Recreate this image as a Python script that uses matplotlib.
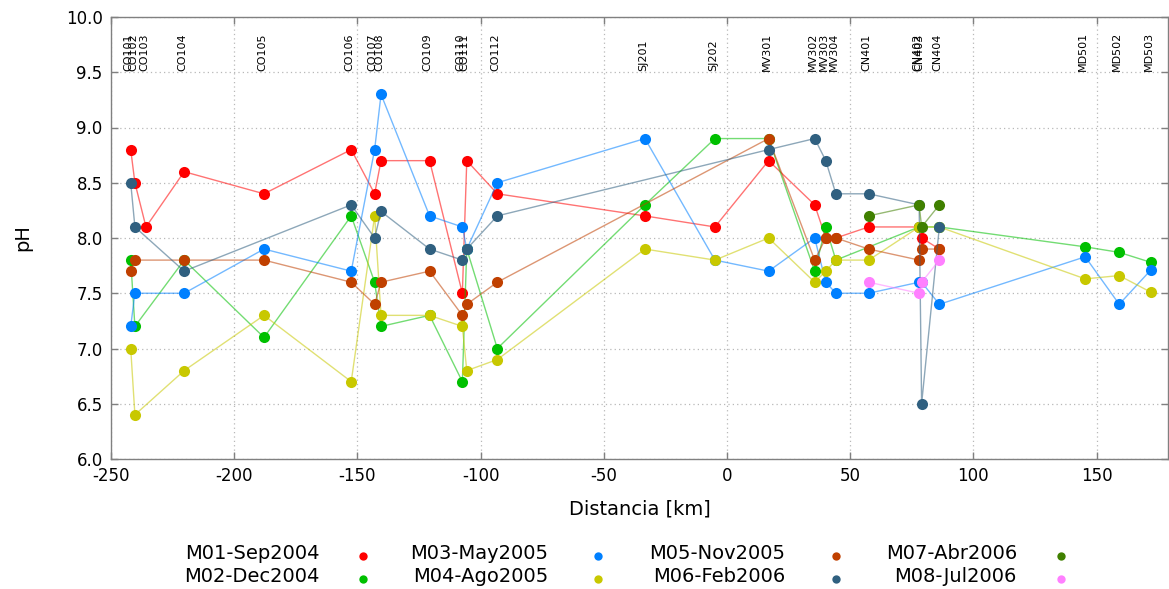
import numpy as np
import matplotlib
matplotlib.use("Agg")
import matplotlib.pyplot as plt
import matplotlib.transforms as mtransforms
from matplotlib.lines import Line2D

plt.rcParams['axes.unicode_minus'] = False

# Sampling stations along the profile and their distance [km]
stations = ["CO101", "CO102", "CO103", "CO104", "CO105", "CO106", "CO107", "CO108",
            "CO109", "CO110", "CO111", "CO112", "SJ201", "SJ202", "MV301", "MV302",
            "MV303", "MV304", "CN401", "CN402", "CN403", "CN404", "MD501", "MD502", "MD503"]
distance = [-242.0, -240.3, -235.8, -220.3, -187.9, -152.5, -143.0, -140.4,
            -120.7, -107.4, -105.6, -93.2, -33.3, -4.9, 16.9, 35.6,
            40.1, 44.2, 57.5, 78.0, 79.0, 86.2, 145.4, 159.2, 172.0]

N = None
# pH per campaign (None = not sampled)
ph_m01 = [8.8, 8.5, 8.1, 8.6, 8.4, 8.8, 8.4, 8.7, 8.7, 7.5, 8.7, 8.4, 8.2, 8.1, 8.7, 8.3,
          8.0, 8.0, 8.1, 8.1, 8.0, 7.9, N, N, N]
ph_m02 = [7.8, 7.2, N, 7.8, 7.1, 8.2, 7.6, 7.2, 7.3, 6.7, 7.9, 7.0, 8.3, 8.9, 8.9, 7.7,
          8.1, 7.8, N, 8.1, N, 8.1, 7.92, 7.87, 7.78]
ph_m03 = [7.2, 7.5, N, 7.5, 7.9, 7.7, 8.8, 9.3, 8.2, 8.1, 7.9, 8.5, 8.9, 7.8, 7.7, 8.0,
          7.6, 7.5, 7.5, 7.6, 7.6, 7.4, 7.83, 7.40, 7.71]
ph_m04 = [7.0, 6.4, N, 6.8, 7.3, 6.7, 8.2, 7.3, 7.3, 7.2, 6.8, 6.9, 7.9, 7.8, 8.0, 7.6,
          7.7, 7.8, 7.8, 8.1, N, 8.1, 7.63, 7.66, 7.51]
ph_m05 = [7.7, 7.8, N, 7.8, 7.8, 7.6, 7.4, 7.6, 7.7, 7.3, 7.4, 7.6, N, N, 8.9, 7.8,
          8.0, 8.0, 7.9, 7.8, 7.9, 7.9, N, N, N]
ph_m06 = [8.5, 8.1, N, 7.7, N, 8.3, 8.0, 8.24, 7.9, 7.8, 7.9, 8.2, N, N, 8.8, 8.9,
          8.7, 8.4, 8.4, 8.3, 6.5, 8.1, N, N, N]
ph_m07 = [N, N, N, N, N, N, N, N, N, N, N, N, N, N, N, N,
          N, N, 8.2, 8.3, 8.1, 8.3, N, N, N]
ph_m08 = [N, N, N, N, N, N, N, N, N, N, N, N, N, N, N, N,
          N, N, 7.6, 7.5, 7.6, 7.8, N, N, N]

campaigns = ["M01-Sep2004", "M02-Dec2004", "M03-May2005", "M04-Ago2005",
             "M05-Nov2005", "M06-Feb2006", "M07-Abr2006", "M08-Jul2006"]
series = [ph_m01, ph_m02, ph_m03, ph_m04, ph_m05, ph_m06, ph_m07, ph_m08]
colors = ["#ff0000", "#00c000", "#0080ff", "#c8c800",
          "#c04000", "#306080", "#408000", "#ff80ff"]

W, H = 1169, 589
fig = plt.figure(figsize=(W / 100, H / 100), dpi=100)
ax = fig.add_axes([111 / W, 1 - 459 / H, (1168 - 111) / W, (459 - 17) / H])

dist = np.array(distance)
for i, (vals, col) in enumerate(zip(series, colors)):
    v = np.array([np.nan if x is None else x for x in vals], dtype=float)
    ok = ~np.isnan(v)
    ax.plot(dist[ok], v[ok], '-', color=col, lw=1.0, alpha=0.55, zorder=2 + 2 * i)
    ax.plot(dist[ok], v[ok], 'o', color=col, ms=8, mec='none', zorder=3 + 2 * i)

ax.set_xlim(-250, 179)
ax.set_ylim(6.0, 10.0)
ax.set_xticks(np.arange(-250, 151, 50))
ax.set_yticks(np.arange(6.0, 10.01, 0.5))
ax.set_yticklabels([f"{t:.1f}" for t in np.arange(6.0, 10.01, 0.5)])
ax.grid(True, linestyle=(0, (1, 2.5)), color="#b8b8b8", lw=0.9, zorder=0)
ax.tick_params(direction='in', length=5, width=1, color="#808080",
               top=True, right=True, labelsize=12, pad=6)
for s in ax.spines.values():
    s.set_color("#808080")
    s.set_linewidth(1.0)

ax.set_xlabel("Distancia [km]", fontsize=14, labelpad=10)
ax.set_ylabel("pH", fontsize=14, labelpad=24)

# Station names along the top of the plot
off = mtransforms.offset_copy(ax.transData, fig=fig, x=-2, y=0, units='dots')
for name, d in zip(stations, distance):
    ax.text(d, 9.515, name, rotation=90, ha='center', va='bottom',
            fontsize=8, transform=off, zorder=20)

# Legend: label followed by the marker, 4 columns x 2 rows
text_right = [320, 548, 785, 1017]
mark_x = [363, 598, 836, 1061]
base_y = [559, 582]
mark_y = [556, 579]
for i, (lab, col) in enumerate(zip(campaigns, colors)):
    c, r = i // 2, i % 2
    fig.text(text_right[c] / W, 1 - base_y[r] / H, lab, ha='right', va='baseline',
             fontsize=14)
    fig.add_artist(Line2D([mark_x[c] / W], [1 - mark_y[r] / H], marker='o', ms=6,
                          color=col, mec='none', transform=fig.transFigure))

fig.savefig("out.png", dpi=100)
